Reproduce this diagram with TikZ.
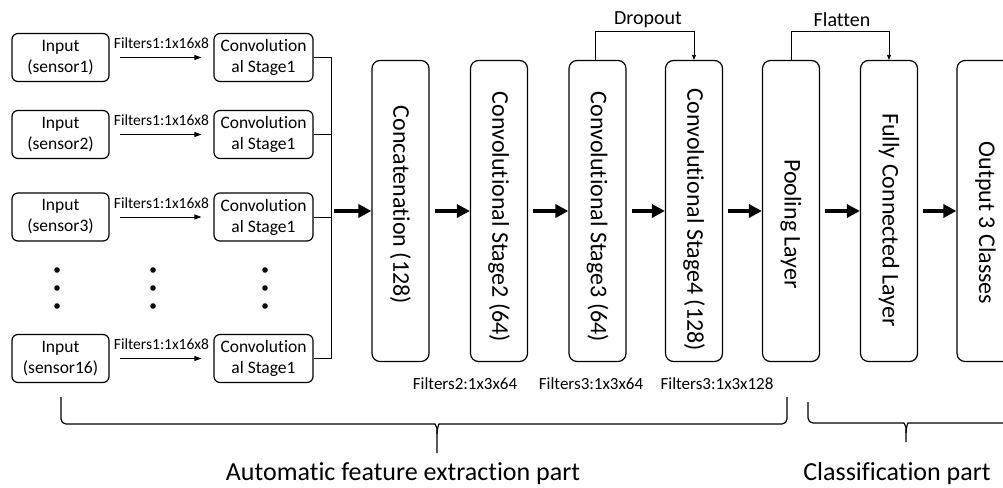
\documentclass[tikz,border=0pt]{standalone}
\usepackage{fontspec}
\setmainfont{Carlito}[Ligatures={NoCommon,NoDiscretionary}]
\usetikzlibrary{arrows.meta}

\begin{document}
\begin{tikzpicture}[x=1pt,y=-1pt,
    inbox/.style={draw,rounded corners=6pt,line width=1.2pt,minimum
        width=97pt,minimum height=48pt,align=center,inner sep=1pt,
        font=\fontsize{17.5}{21}\selectfont},
    stagebox/.style={inbox,minimum width=99pt},
    layer/.style={draw,rounded corners=8pt,line width=1.2pt,minimum
        width=57pt,minimum height=301pt},
    laytext/.style={rotate=-90,font=\fontsize{24}{26}\selectfont},
    small/.style={font=\fontsize{15.5}{18}\selectfont},
    thinarrow/.style={-{Triangle[length=7pt,width=5pt]},line width=0.8pt},
    fatarrow/.style={-{Triangle[length=13pt,width=13pt]},line width=4pt},
    brace/.style={line width=1.2pt,rounded corners=5pt}]

    \useasboundingbox (0,0) rectangle (1003,487);
    \clip (0,0) rectangle (1003,487);

    % the sensor branches
    
    \node[inbox] (in1) at (60.5,57.5) {Input\\(sensor1)};
    \node[inbox] (in2) at (60.5,134.5) {Input\\(sensor2)};
    \node[inbox] (in3) at (60.5,217) {Input\\(sensor3)};
    \node[inbox] (in16) at (60.5,358.5) {Input\\(sensor16)};

    \node[stagebox] (c1) at (263.5,57.5) {Convolution\\al Stage1};
    \node[stagebox] (c2) at (263.5,134.5) {Convolution\\al Stage1};
    \node[stagebox] (c3) at (263.5,217) {Convolution\\al Stage1};
    \node[stagebox] (c16) at (263.5,358.5) {Convolution\\al Stage1};

    \draw[thinarrow,shorten <=10pt,shorten >=12pt] (in1) to
    node[small,midway,yshift=14pt]{Filters1:1x16x8} (c1);
    \draw[thinarrow,shorten <=10pt,shorten >=12pt] (in2) to
    node[small,midway,yshift=14pt]{Filters1:1x16x8} (c2);
    \draw[thinarrow,shorten <=10pt,shorten >=12pt] (in3) to
    node[small,midway,yshift=14pt]{Filters1:1x16x8} (c3);
    \draw[thinarrow,shorten <=10pt,shorten >=12pt] (in16) to
    node[small,midway,yshift=14pt]{Filters1:1x16x8} (c16);

    \foreach \x in {57,153,265}
      \foreach \y in {270,288,306}
        \fill (\x,\y) circle (2.8pt);

    % joining the branches
    
    \coordinate (bus) at (331,211);
    \draw[line width=1pt] (c1.east) -- (c1.east -| bus) -- (c16.east -| bus)
    -- (c16.east);
    \draw[line width=1pt] (c2.east) -- (c2.east -| bus);
    \draw[line width=1pt] (c3.east) -- (c3.east -| bus);

    % the layers
    
    \node[layer] (cat) at (400.5,211) {};
    \node[layer] (st2) at (499,211) {};
    \node[layer] (st3) at (597.5,211) {};
    \node[layer] (st4) at (694,211) {};
    \node[layer] (pool) at (791,211) {};
    \node[layer] (fc) at (889,211) {};
    \node[layer] (out) at (985.5,211) {};

    \node[laytext] at ([yshift=6pt]cat) {Concatenation (128)};
    \node[laytext] at ([yshift=-6pt]st2) {Convolutional Stage2 (64)};
    \node[laytext] at ([yshift=-6pt]st3) {Convolutional Stage3 (64)};
    \node[laytext] at ([yshift=-9pt]st4) {Convolutional Stage4 (128)};
    \node[laytext] at ([yshift=-13pt]pool) {Pooling Layer};
    \node[laytext] at ([yshift=-9pt]fc) {Fully Connected Layer};
    \node[laytext] at ([yshift=-12pt]out) {Output 3 Classes};

    \draw[fatarrow,shorten <=3pt] (bus) -- (cat);
    \draw[fatarrow,shorten <=5pt] (cat) -- (st2);
    \draw[fatarrow,shorten <=5pt] (st2) -- (st3);
    \draw[fatarrow,shorten <=5pt] (st3) -- (st4);
    \draw[fatarrow,shorten <=5pt] (st4) -- (pool);
    \draw[fatarrow,shorten <=5pt] (pool) -- (fc);
    \draw[fatarrow,shorten <=5pt] (fc) -- (out);

    \draw[-{Triangle[length=5pt,width=4pt]},line width=0.8pt]
    ([xshift=-2.5pt]st3.north) -- ++(0,-28) -| (st4.north);
    \node[font=\fontsize{20}{24}\selectfont] (drop) at (648,20) {Dropout};
    \draw[-{Triangle[length=5pt,width=4pt]},line width=0.8pt]
    (pool.north) -- ++(0,-28) -| (fc.north);
    \node[font=\fontsize{20}{24}\selectfont] (flat) at (842,20) {Flatten};

    \node[font=\fontsize{17}{20}\selectfont] (f2) at (465,384) {Filters2:1x3x64};
    \node[font=\fontsize{17}{20}\selectfont] (f3) at (591,384) {Filters3:1x3x64};
    \node[font=\fontsize{17}{20}\selectfont] (f4) at (717,384) {Filters3:1x3x128};

    % the two parts
    
    \draw[brace] (61,397) -- (61,424) -- (430,424) .. controls (435,424)
    and (437,428) .. (437,434) -- (437,453);
    \draw[brace] (787,397) -- (787,424) -- (444,424) .. controls (439,424)
    and (437,428) .. (437,434);
    \draw[brace] (808,402) -- (808,423) -- (899,423) .. controls (904,423)
    and (906,427) .. (906,433) -- (906,442);
    \draw[brace] (1010,423) -- (913,423) .. controls (908,423)
    and (906,427) .. (906,433);

    \node[font=\fontsize{26}{30}\selectfont,anchor=base] (auto) at (403,480)
    {Automatic feature extraction part};
    \node[font=\fontsize{26}{30}\selectfont,anchor=base] (cls) at (897,480)
    {Classification part};
  \end{tikzpicture}
\end{document}
